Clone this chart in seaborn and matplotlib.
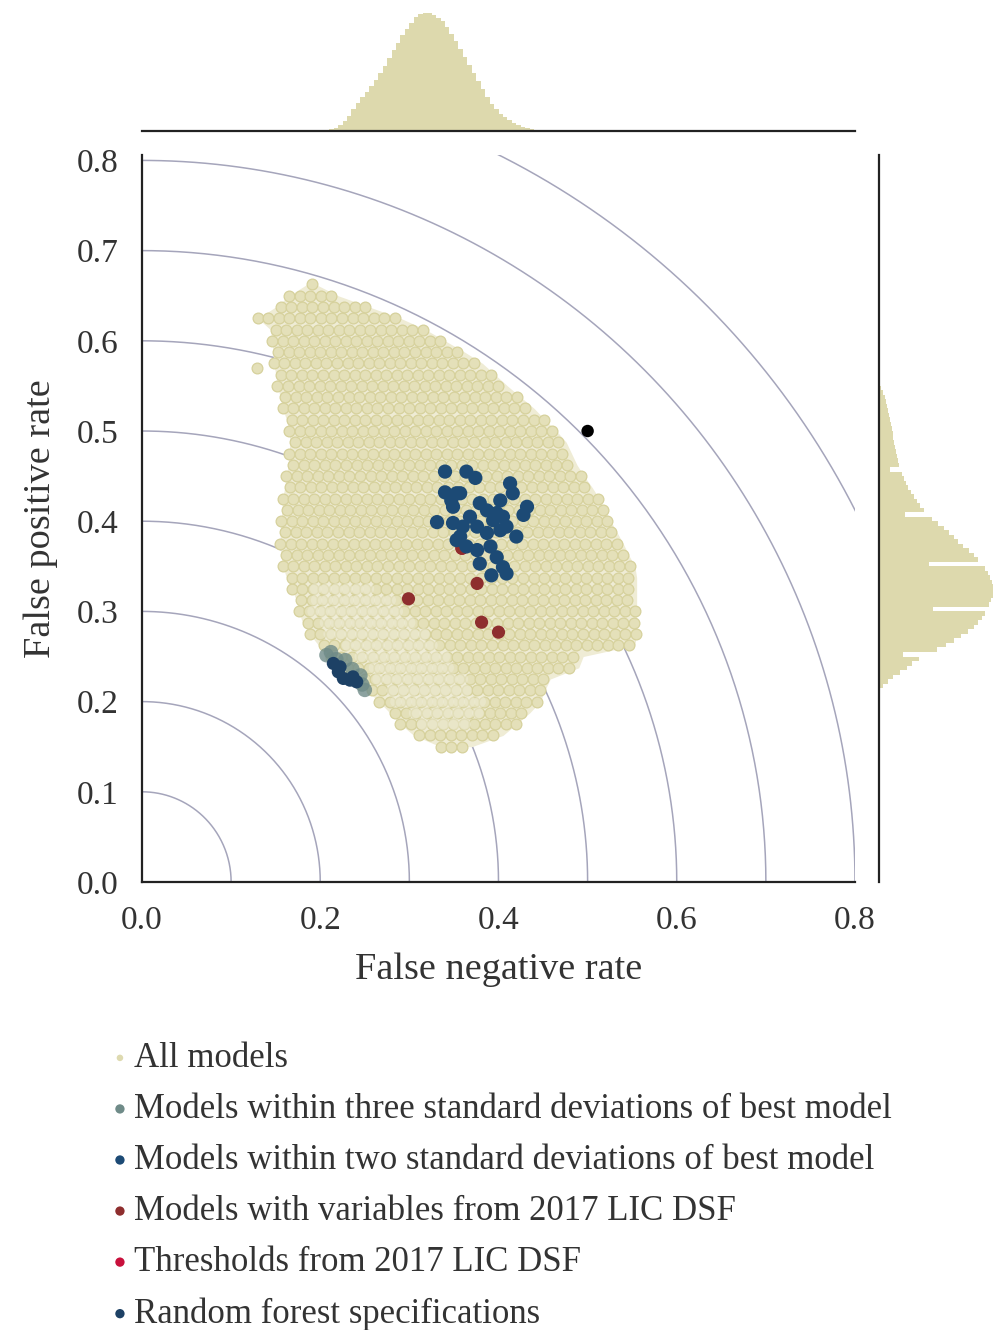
import numpy as np
import pandas as pd
import matplotlib
matplotlib.use("Agg")
import matplotlib.pyplot as plt
import seaborn as sns

sns.set_style("white")
plt.rcParams['font.family'] = ['Liberation Serif', 'DejaVu Serif']

# --- cloud of all models: one row per false positive level, with its left / right extent
cloud_rows = [0.150, 0.1625, 0.175, 0.1875, 0.200, 0.2125, 0.225, 0.2375, 0.250, 0.2625,
              0.275, 0.2875, 0.300, 0.3125, 0.325, 0.3375, 0.350, 0.3625, 0.375, 0.3875,
              0.400, 0.4125, 0.425, 0.4375, 0.450, 0.4625, 0.475, 0.4875, 0.500, 0.5125,
              0.525, 0.5375, 0.550, 0.5625, 0.575, 0.5875, 0.600, 0.6125, 0.625, 0.6375,
              0.650, 0.6625]
cloud_xmin = [0.335, 0.305, 0.290, 0.278, 0.266, 0.252, 0.238, 0.225, 0.212, 0.198,
              0.188, 0.180, 0.176, 0.173, 0.168, 0.162, 0.158, 0.156, 0.155, 0.155,
              0.156, 0.157, 0.158, 0.160, 0.162, 0.164, 0.165, 0.166, 0.165, 0.162,
              0.158, 0.155, 0.152, 0.150, 0.148, 0.147, 0.146, 0.144, 0.130, 0.150,
              0.165, 0.185]
cloud_xmax = [0.370, 0.405, 0.420, 0.435, 0.447, 0.452, 0.458, 0.490, 0.495, 0.553,
              0.555, 0.555, 0.555, 0.555, 0.555, 0.555, 0.553, 0.546, 0.540, 0.533,
              0.526, 0.519, 0.513, 0.505, 0.496, 0.488, 0.482, 0.476, 0.465, 0.452,
              0.440, 0.425, 0.410, 0.396, 0.382, 0.362, 0.340, 0.318, 0.290, 0.255,
              0.220, 0.195]
cloud_extra_x = [0.129]
cloud_extra_y = [0.570]

# paler, more washed-out part of the cloud (lower left)
pale_rows = [0.175, 0.1875, 0.200, 0.2125, 0.225, 0.2375, 0.250, 0.2625, 0.275, 0.2875,
             0.300, 0.3125, 0.325]
pale_xmin = [0.315, 0.300, 0.285, 0.275, 0.265, 0.255, 0.245, 0.225, 0.210, 0.200,
             0.192, 0.190, 0.195]
pale_xmax = [0.365, 0.380, 0.385, 0.375, 0.365, 0.350, 0.340, 0.330, 0.320, 0.310,
             0.295, 0.280, 0.260]

three_sd_x = [0.207, 0.212, 0.228, 0.245, 0.250, 0.247, 0.218, 0.236]
three_sd_y = [0.2515, 0.2548, 0.246, 0.229, 0.213, 0.219, 0.247, 0.236]

two_sd_x = [0.340, 0.364, 0.374, 0.340, 0.353, 0.413, 0.416, 0.402, 0.432, 0.428,
            0.331, 0.349, 0.349, 0.357, 0.368, 0.379, 0.376, 0.387, 0.394, 0.405,
            0.402, 0.409, 0.420, 0.364, 0.376, 0.391, 0.398, 0.379, 0.405, 0.392,
            0.409, 0.353, 0.360, 0.387, 0.398, 0.347, 0.357]
two_sd_y = [0.455, 0.455, 0.448, 0.432, 0.431, 0.442, 0.431, 0.423, 0.416, 0.407,
            0.399, 0.416, 0.398, 0.383, 0.405, 0.420, 0.394, 0.387, 0.401, 0.405,
            0.390, 0.394, 0.383, 0.372, 0.368, 0.372, 0.360, 0.353, 0.349, 0.340,
            0.342, 0.379, 0.394, 0.412, 0.409, 0.423, 0.431]

lic_vars_x = [0.299, 0.376, 0.381, 0.400, 0.359]
lic_vars_y = [0.314, 0.331, 0.288, 0.277, 0.370]

thresholds_x = [0.359]
thresholds_y = [0.370]

forest_x = [0.2147, 0.2203, 0.2259, 0.2334, 0.2409, 0.2222, 0.2367]
forest_y = [0.2423, 0.2330, 0.2257, 0.2238, 0.2219, 0.2385, 0.2274]

best_x = [0.5]
best_y = [0.5]

arc_radii = [0.1, 0.2, 0.3, 0.4, 0.5, 0.6, 0.7, 0.8, 0.9]

# marginal histograms (bin left edge, bar length)
hist_w = 0.005
top_bins = np.round(np.arange(0.190, 0.456, hist_w), 4)
top_counts = [0, 0.5, 1, 1.5, 2.5, 3.5, 6, 10, 15, 22, 28, 34, 39, 45, 51, 58, 65, 73, 81, 88,
              96, 102, 108, 114, 117, 118, 118, 116, 113, 110, 104, 97, 90, 82, 74, 66, 58, 50,
              42, 34, 27, 22, 17, 14, 11, 8, 6, 4, 3, 2, 1.5, 1, 0.7, 0.4]
right_bins = np.round(np.arange(0.210, 0.5451, hist_w), 4)
right_counts = [1, 4, 9, 14, 21, 28, 33, 40, 24, 58, 67, 75, 82, 89, 95, 99, 103, 106, 54, 110,
                112, 114, 114, 114, 113, 111, 109, 106, 50, 99, 95, 90, 84, 79, 75, 70, 65, 59,
                53, 26, 45, 41, 38, 35, 32, 29, 27, 25, 23, 11, 20, 19, 18, 17, 16, 15, 14, 13.5,
                13, 12, 11, 10, 9, 8, 7, 6, 4, 2]

labels = ["All models",
          "Models within three standard deviations of best model",
          "Models within two standard deviations of best model",
          "Models with variables from 2017 LIC DSF",
          "Thresholds from 2017 LIC DSF",
          "Random forest specifications"]


def spread(rows, lo, hi, step):
    # lay packed dots along each row, every other row shifted by half a step
    xs_all, ys_all = [], []
    for i, (yy, a, b) in enumerate(zip(rows, lo, hi)):
        off = step / 2 if i % 2 else 0
        xs = np.arange(a + off, b + 1e-9, step)
        xs_all += list(xs)
        ys_all += [yy] * len(xs)
    return xs_all, ys_all


px, py = spread(cloud_rows, cloud_xmin, cloud_xmax, 0.0118)
px += cloud_extra_x
py += cloud_extra_y
cloud = pd.DataFrame({'fnr': px, 'fpr': py})
qx, qy = spread(pale_rows, pale_xmin, pale_xmax, 0.0118)
pale = pd.DataFrame({'fnr': qx, 'fpr': qy})

W, H = 996, 1330
fig = plt.figure(figsize=(W / 100, H / 100), dpi=100)
ax = fig.add_axes([142 / W, 1 - 882 / H, 713 / W, 727 / H])
ax_top = fig.add_axes([142 / W, 1 - 131 / H, 713 / W, 123 / H])
ax_right = fig.add_axes([879 / W, 1 - 882 / H, 117 / W, 727 / H])

# reference arcs
t = np.linspace(0, np.pi / 2, 300)
for r in arc_radii:
    ax.plot(r * np.cos(t), r * np.sin(t), color='#a5a5bb', lw=1.1, zorder=1)

# pale body behind the dots
ax.fill_betweenx(cloud_rows, cloud_xmin, cloud_xmax, color='#efecd5', lw=0, zorder=1.5)

sns.scatterplot(data=cloud, x='fnr', y='fpr', ax=ax, color='#e4e0b9', edgecolor='#d6d19c',
                linewidth=0.9, s=60, label=labels[0], zorder=2)
sns.scatterplot(data=pale, x='fnr', y='fpr', ax=ax, color='#f1efdd', edgecolor='none',
                s=70, alpha=0.42, zorder=2.5)
sns.scatterplot(x=three_sd_x, y=three_sd_y, ax=ax, color='#6f8b88', edgecolor='none',
                s=110, alpha=0.8, label=labels[1], zorder=3)
sns.scatterplot(x=thresholds_x, y=thresholds_y, ax=ax, color='#c8103c', edgecolor='none',
                s=90, label=labels[4], zorder=3)
sns.scatterplot(x=lic_vars_x, y=lic_vars_y, ax=ax, color='#8e2e2e', edgecolor='none',
                s=90, label=labels[3], zorder=4)
sns.scatterplot(x=forest_x, y=forest_y, ax=ax, color='#1d4165', edgecolor='none',
                s=90, label=labels[5], zorder=4)
sns.scatterplot(x=two_sd_x, y=two_sd_y, ax=ax, color='#1c4a75', edgecolor='none',
                s=105, label=labels[2], zorder=5)
sns.scatterplot(x=best_x, y=best_y, ax=ax, color='black', edgecolor='none', s=80, zorder=6)

ax.set_xlim(0, 0.8)
ax.set_ylim(0, 0.806)
ax.set_xticks([0.0, 0.2, 0.4, 0.6, 0.8])
ax.set_yticks([0.0, 0.1, 0.2, 0.3, 0.4, 0.5, 0.6, 0.7, 0.8])
ax.set_xticklabels(['0.0', '0.2', '0.4', '0.6', '0.8'])
ax.set_yticklabels(['0.0', '0.1', '0.2', '0.3', '0.4', '0.5', '0.6', '0.7', '0.8'])
ax.tick_params(axis='both', length=0, labelsize=24, colors='#333333')
ax.tick_params(axis='y', pad=17)
ax.tick_params(axis='x', pad=17)
ax.set_xlabel('False negative rate', fontsize=27.5, color='#333333', labelpad=12)
ax.set_ylabel('False positive rate', fontsize=27.5, color='#333333', labelpad=13)
for side in ['top', 'right']:
    ax.spines[side].set_visible(False)
for side in ['left', 'bottom']:
    ax.spines[side].set_linewidth(1.6)
    ax.spines[side].set_color('#222222')

# marginals
top_df = pd.DataFrame({'fnr': top_bins + hist_w / 2, 'n': top_counts})
top_edges = list(np.append(top_bins, top_bins[-1] + hist_w))
sns.histplot(data=top_df, x='fnr', weights='n', bins=top_edges, ax=ax_top,
             color='#ddd9ad', alpha=1, linewidth=0)
ax_top.set_xlim(0, 0.8)
ax_top.set_ylim(0, 123)

right_df = pd.DataFrame({'fpr': right_bins + hist_w / 2, 'n': right_counts})
right_edges = list(np.append(right_bins, right_bins[-1] + hist_w))
sns.histplot(data=right_df, y='fpr', weights='n', bins=right_edges, ax=ax_right,
             color='#ddd9ad', alpha=1, linewidth=0)
ax_right.set_ylim(0, 0.806)
ax_right.set_xlim(0, 117)

for a, keep in [(ax_top, 'bottom'), (ax_right, 'left')]:
    a.set_xticks([])
    a.set_yticks([])
    a.set_xlabel('')
    a.set_ylabel('')
    a.patch.set_alpha(0)
    for side in ['top', 'right', 'left', 'bottom']:
        a.spines[side].set_visible(side == keep)
    a.spines[keep].set_linewidth(1.6)
    a.spines[keep].set_color('#222222')

# legend below the plot
handles, labs = ax.get_legend_handles_labels()
order = [labs.index(l) for l in labels]
ax.get_legend().remove()
leg = fig.legend([handles[i] for i in order], [labs[i] for i in order],
                 loc='upper left', bbox_to_anchor=(113 / W, 1 - 1042 / H),
                 frameon=False, fontsize=25, handlelength=0.4, handletextpad=0.2,
                 labelspacing=0.52, borderpad=0, borderaxespad=0)
sizes = [22, 45, 45, 45, 45, 45]
cols = ['#dedab0', '#6f8b88', '#1c4a75', '#8e2e2e', '#c8103c', '#1d4165']
for h, s, c in zip(leg.legend_handles, sizes, cols):
    h.set_sizes([s])
    h.set_alpha(1)
    h.set_facecolor(c)
    h.set_edgecolor('none')
for txt in leg.get_texts():
    txt.set_color('#333333')

fig.savefig('out.png', dpi=100)
